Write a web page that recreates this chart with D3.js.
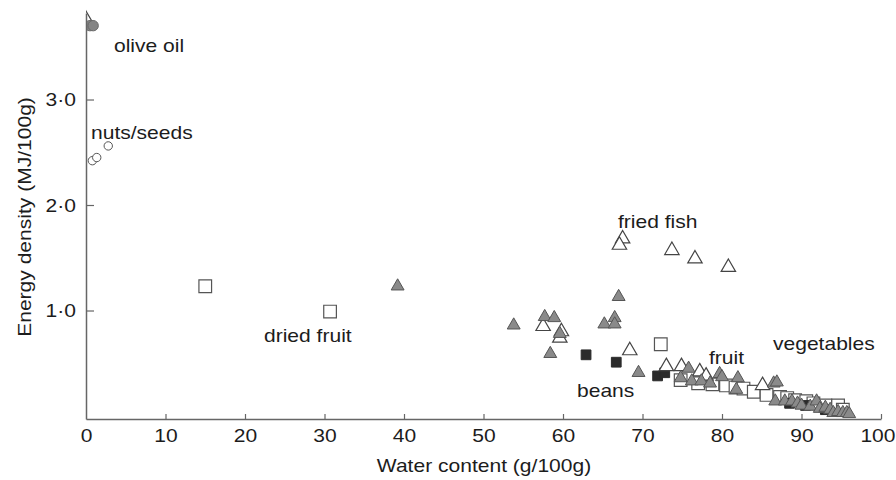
<!DOCTYPE html>
<html>
<head>
<meta charset="utf-8">
<script src="https://cdn.jsdelivr.net/npm/d3@7"></script>
<style>
  html, body { margin: 0; padding: 0; background: #fff; }
  svg { display: block; }
  text { font-family: "Liberation Sans", Arial, sans-serif; fill: #1c1c1c; }
</style>
</head>
<body>
<svg id="chart" width="896" height="480"></svg>
<script>
// ---- Data (water content g/100g, energy density MJ/100g) ----
const xTicks = [0, 10, 20, 30, 40, 50, 60, 70, 80, 90, 100];
const yTicks = [1, 2, 3];

const greyCircles = [[0.5, 3.70], [0.9, 3.70]];
const openCircles = [[0.8, 2.42], [1.35, 2.45], [2.8, 2.56]];

const openSquares = [
  [15.0, 1.23], [30.7, 0.99], [72.3, 0.68], [74.8, 0.34], [77.0, 0.31], [78.8, 0.30],
  [80.5, 0.29], [81.7, 0.27], [82.7, 0.26], [84.0, 0.23], [85.6, 0.20], [87.3, 0.18],
  [88.2, 0.17], [89.2, 0.15], [90.6, 0.14], [91.5, 0.12], [93.0, 0.10], [94.6, 0.10], [95.2, 0.06]
];
const blackSquares = [
  [62.9, 0.58], [66.7, 0.51], [71.9, 0.38], [72.8, 0.41], [88.5, 0.12], [90.5, 0.10], [93.0, 0.06]
];
const openTriangles = [
  [0.0, 3.76],
  [67.5, 1.68], [67.1, 1.62], [73.7, 1.57], [76.6, 1.49], [80.8, 1.41],
  [57.5, 0.85], [59.6, 0.74], [59.8, 0.80], [68.4, 0.62], [73.0, 0.47], [74.9, 0.47],
  [77.2, 0.42], [78.0, 0.38], [85.1, 0.29]
];
const greyTriangles = [
  [39.2, 1.23], [53.8, 0.86], [57.7, 0.94], [58.9, 0.93], [59.6, 0.78], [58.4, 0.59],
  [65.2, 0.87], [66.5, 0.93], [66.5, 0.87], [67.0, 1.13], [69.5, 0.41],
  [74.8, 0.36], [75.8, 0.45], [76.2, 0.33], [77.4, 0.33], [78.5, 0.31], [79.7, 0.40],
  [80.0, 0.37], [82.0, 0.36], [81.8, 0.25], [86.5, 0.31], [86.9, 0.32], [86.7, 0.14],
  [87.9, 0.14], [88.8, 0.14], [89.5, 0.12], [90.0, 0.10], [91.1, 0.09], [91.9, 0.14],
  [92.3, 0.07], [93.0, 0.08], [93.6, 0.06], [94.0, 0.03], [94.6, 0.04], [95.2, 0.03],
  [95.7, 0.03], [96.0, 0.02]
];

const labels = [
  {text: "olive oil", x: 114, y: 52},
  {text: "nuts/seeds", x: 91, y: 139},
  {text: "dried fruit", x: 264, y: 342},
  {text: "fried fish", x: 618, y: 228},
  {text: "vegetables", x: 773, y: 350},
  {text: "fruit", x: 709, y: 364},
  {text: "beans", x: 577, y: 397}
];

// ---- Layout ----
const FS = 18.8, SX = 1.12;
const svg = d3.select("#chart");
const x = d3.scaleLinear().domain([0, 100]).range([86, 881]);
const y = d3.scaleLinear().domain([-0.0284, 3.82]).range([419, 13]);
const AX = "#666";

svg.append("defs").append("clipPath").attr("id", "plotclip")
  .append("rect").attr("x", x.range()[0]).attr("y", 0)
  .attr("width", 896 - x.range()[0]).attr("height", y.range()[0]);

// ---- Marks ----
const plot = svg.append("g").attr("clip-path", "url(#plotclip)");
function drawSymbols(data, type, size, fill, stroke, sw) {
  plot.append("g").selectAll("path").data(data).join("path")
    .attr("transform", d => `translate(${x(d[0])},${y(d[1])})`)
    .attr("d", d3.symbol().type(type).size(size))
    .attr("fill", fill).attr("stroke", stroke).attr("stroke-width", sw);
}
drawSymbols(openSquares, d3.symbolSquare, 160, "#fff", "#555", 1.2);
drawSymbols(blackSquares, d3.symbolSquare, 95, "#2b2b2b", "#2b2b2b", 1);
drawSymbols(openTriangles, d3.symbolTriangle, 90, "#fff", "#444", 1.2);
drawSymbols(greyTriangles, d3.symbolTriangle, 72, "#8a8a8a", "#555", 1);
drawSymbols(openCircles, d3.symbolCircle, 55, "#fff", "#555", 1);

// x axis
const gx = svg.append("g").attr("transform", `translate(0,${y.range()[0]})`)
  .call(d3.axisBottom(x).tickValues(xTicks).tickSizeInner(-5).tickSizeOuter(0).tickPadding(10).tickFormat(d3.format("d")));
gx.select(".domain").attr("stroke", AX).attr("stroke-width", 1.5);
gx.selectAll(".tick line").attr("stroke", AX).attr("stroke-width", 1.2);
gx.selectAll(".tick").filter(d => d === 0).select("line").remove();
gx.selectAll(".tick text").attr("font-size", FS).attr("font-family", null).attr("fill", "#1c1c1c")
  .attr("transform", `scale(${SX},1)`);
// keep the last label inside the frame
gx.selectAll(".tick").filter(d => d === 100).select("text")
  .attr("text-anchor", "end").attr("transform", `translate(14,0) scale(${SX},1)`);

// y axis
const gy = svg.append("g").attr("transform", `translate(${x.range()[0]},0)`)
  .call(d3.axisLeft(y).tickValues(yTicks).tickSizeInner(-8).tickSizeOuter(0).tickPadding(10)
    .tickFormat(d => d.toFixed(1).replace(".", "\u00B7")));
gy.select(".domain").attr("stroke", AX).attr("stroke-width", 1.5);
gy.selectAll(".tick line").attr("stroke", AX).attr("stroke-width", 1.2);
gy.selectAll(".tick text").attr("font-size", FS).attr("font-family", null).attr("fill", "#1c1c1c")
  .attr("x", 0).attr("transform", `translate(-10,0) scale(${SX},1)`);

// olive oil marks drawn over the axis
drawSymbols(greyCircles, d3.symbolCircle, 85, "#858585", "#6a6a6a", 1);

// ---- Annotations ----
svg.append("g").selectAll("g").data(labels).join("g")
  .attr("transform", d => `translate(${d.x},${d.y})`)
  .append("text").attr("font-size", FS).attr("transform", `scale(${SX},1)`).text(d => d.text);

// ---- Axis titles ----
svg.append("g").attr("transform", `translate(484,472)`)
  .append("text").attr("font-size", FS).attr("text-anchor", "middle")
  .attr("transform", `scale(${SX},1)`).text("Water content (g/100g)");
svg.append("g").attr("transform", `translate(31,217) rotate(-90)`)
  .append("text").attr("font-size", FS).attr("text-anchor", "middle")
  .attr("transform", `scale(${SX},1)`).text("Energy density (MJ/100g)");
</script>
</body>
</html>
